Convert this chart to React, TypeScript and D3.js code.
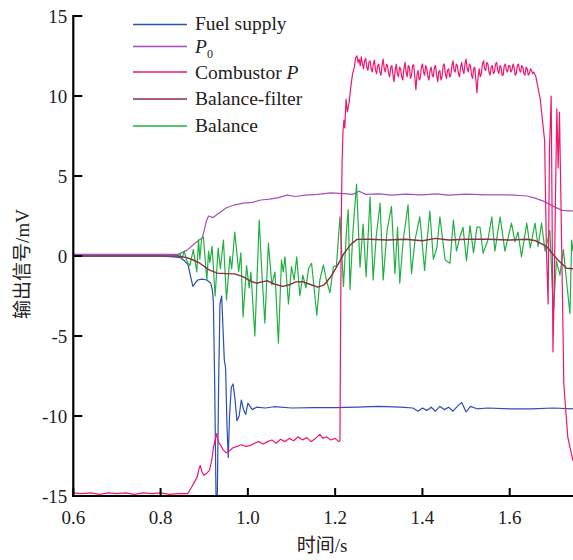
import React from "react";
import * as d3 from "d3";

const xTicks = [0.6, 0.8, 1.0, 1.2, 1.4, 1.6];
const yTicks = [-15, -10, -5, 0, 5, 10, 15];

const fuelSupply: [number, number][] = [
  [0.6, 0], [0.7, 0], [0.8, 0], [0.83, -0.05], [0.845, -0.1], [0.855, -0.3], [0.863, -0.56],
  [0.869, -1.3], [0.874, -1.9], [0.879, -1.7], [0.885, -1.5], [0.895, -1.45], [0.906, -1.5],
  [0.915, -1.7], [0.919, -2.2], [0.921, -2.9], [0.924, -8], [0.927, -15], [0.93, -15],
  [0.933, -8], [0.936, -3], [0.94, -2.5], [0.943, -4.5], [0.946, -6.5], [0.949, -7.0],
  [0.952, -10.5], [0.955, -12.6], [0.958, -10], [0.962, -8.2], [0.966, -8.0], [0.97, -8.8],
  [0.975, -10.3], [0.98, -10.0], [0.985, -9.0], [0.99, -9.6], [0.995, -9.9], [1.0, -9.2],
  [1.01, -9.6], [1.02, -9.45], [1.04, -9.5], [1.06, -9.42], [1.1, -9.5], [1.15, -9.48],
  [1.2, -9.48], [1.25, -9.45], [1.3, -9.4], [1.35, -9.45], [1.378, -9.5], [1.39, -9.7],
  [1.40, -9.5], [1.41, -9.65], [1.42, -9.45], [1.43, -9.7], [1.44, -9.4], [1.45, -9.6],
  [1.46, -9.45], [1.47, -9.7], [1.48, -9.4], [1.49, -9.15], [1.5, -9.75], [1.51, -9.4],
  [1.525, -9.55], [1.55, -9.5], [1.6, -9.55], [1.65, -9.55], [1.7, -9.5], [1.745, -9.55],
];

const p0: [number, number][] = [
  [0.6, 0.1], [0.7, 0.1], [0.8, 0.1], [0.84, 0.1], [0.86, 0.35], [0.875, 0.7], [0.888, 1.0],
  [0.895, 1.1], [0.9, 1.6], [0.905, 2.2], [0.91, 2.5], [0.92, 2.4], [0.935, 2.7], [0.95, 3.0],
  [0.97, 3.2], [0.99, 3.3], [1.01, 3.35], [1.03, 3.5], [1.05, 3.55], [1.07, 3.65], [1.09, 3.8],
  [1.11, 3.72], [1.13, 3.8], [1.16, 3.85], [1.19, 3.95], [1.22, 3.9], [1.24, 3.85], [1.255, 4.05],
  [1.27, 3.85], [1.3, 3.88], [1.33, 3.8], [1.36, 3.87], [1.4, 3.82], [1.43, 3.88], [1.46, 3.8],
  [1.5, 3.87], [1.55, 3.82], [1.6, 3.82], [1.64, 3.75], [1.66, 3.6], [1.68, 3.4], [1.7, 3.1],
  [1.72, 2.85], [1.745, 2.8],
];

const combustorP: [number, number][] = [
  [0.6, -14.8], [0.62, -14.85], [0.64, -14.8], [0.66, -14.9], [0.68, -14.8], [0.7, -14.85],
  [0.72, -14.8], [0.74, -14.9], [0.76, -14.8], [0.78, -14.85], [0.8, -14.8], [0.82, -14.9],
  [0.84, -14.85], [0.862, -14.85], [0.87, -14.5], [0.878, -14.1], [0.884, -13.8], [0.888, -13.3],
  [0.891, -13.1], [0.895, -13.5], [0.899, -13.7], [0.905, -13.6], [0.912, -13.4], [0.917, -12.8],
  [0.921, -12.0], [0.925, -11.5], [0.928, -11.1], [0.932, -11.6], [0.937, -11.8], [0.943, -12.1],
  [0.95, -12.3], [0.957, -12.2], [0.965, -12.0], [0.975, -11.9], [0.985, -11.8], [0.995, -11.9],
  [1.005, -11.85], [1.015, -11.7], [1.025, -11.6], [1.035, -11.75], [1.045, -11.6], [1.055, -11.5],
  [1.065, -11.7], [1.075, -11.45], [1.085, -11.6], [1.095, -11.4], [1.105, -11.55], [1.115, -11.3],
  [1.125, -11.5], [1.135, -11.35], [1.145, -11.6], [1.155, -11.4], [1.165, -11.15], [1.172, -11.4],
  [1.18, -11.3], [1.19, -11.5], [1.2, -11.4], [1.208, -11.6], [1.211, -11.55], [1.212, -6.5],
  [1.214, 2.0], [1.216, 6.0], [1.218, 7.8], [1.22, 8.5], [1.222, 8.0], [1.225, 9.8], [1.228, 9.0],
  [1.232, 9.6], [1.236, 10.6], [1.24, 11.4], [1.244, 11.8], [1.247, 12.4],
  [1.25, 12.5], [1.2525, 12.1], [1.255, 12.3], [1.2575, 11.9], [1.26, 12.45], [1.2625, 12.0],
  [1.265, 11.7], [1.2675, 12.2], [1.27, 12.35], [1.2725, 11.8], [1.275, 11.6], [1.2775, 12.1],
  [1.28, 12.2], [1.2825, 11.7], [1.285, 11.5], [1.2875, 12.0], [1.29, 12.25], [1.2925, 11.6],
  [1.295, 11.4], [1.2975, 11.9], [1.3, 12.0], [1.3025, 11.5], [1.305, 11.3], [1.3075, 11.9],
  [1.31, 12.3], [1.3125, 11.7], [1.315, 11.5], [1.3175, 12.0], [1.32, 11.9], [1.3225, 11.4],
  [1.325, 11.2], [1.3275, 11.8], [1.33, 11.9], [1.3325, 11.3], [1.335, 10.9], [1.3375, 11.6],
  [1.34, 12.0], [1.3425, 11.4], [1.345, 11.2], [1.3475, 11.8], [1.35, 11.7], [1.3525, 11.2],
  [1.355, 11.0], [1.3575, 11.7], [1.36, 12.1], [1.3625, 11.5], [1.365, 11.2], [1.3675, 11.9],
  [1.37, 11.8], [1.3725, 11.1], [1.375, 11.3], [1.3775, 11.9], [1.38, 11.95], [1.3825, 11.2],
  [1.385, 10.4], [1.3875, 11.3], [1.39, 11.6], [1.3925, 11.0], [1.395, 11.1], [1.3975, 11.8],
  [1.4, 12.0], [1.4025, 11.5], [1.405, 11.3], [1.4075, 11.9], [1.41, 11.7], [1.4125, 11.2],
  [1.415, 11.0], [1.4175, 11.6], [1.42, 11.8], [1.4225, 11.3], [1.425, 11.2], [1.4275, 11.8],
  [1.43, 11.9], [1.4325, 11.3], [1.435, 10.9], [1.4375, 11.5], [1.44, 11.6], [1.4425, 11.0],
  [1.445, 11.2], [1.4475, 11.9], [1.45, 12.0], [1.4525, 11.4], [1.455, 11.1], [1.4575, 11.6],
  [1.46, 11.7], [1.4625, 11.2], [1.465, 11.3], [1.4675, 11.9], [1.47, 12.2], [1.4725, 11.6],
  [1.475, 11.5], [1.4775, 12.0], [1.48, 11.9], [1.4825, 11.4], [1.485, 11.2], [1.4875, 11.8],
  [1.49, 12.1], [1.4925, 11.6], [1.495, 11.4], [1.4975, 12.0], [1.5, 12.3], [1.5025, 11.7],
  [1.505, 11.5], [1.5075, 12.0], [1.51, 11.9], [1.5125, 11.3], [1.515, 11.1], [1.5175, 11.7],
  [1.52, 11.8], [1.5225, 11.0], [1.525, 10.2], [1.5275, 11.2], [1.53, 11.7], [1.5325, 11.2],
  [1.535, 11.4], [1.5375, 12.0], [1.54, 12.2], [1.5425, 11.7], [1.545, 11.6], [1.5475, 12.1],
  [1.55, 12.0], [1.5525, 11.5], [1.555, 11.3], [1.5575, 11.8], [1.56, 11.9], [1.5625, 11.4],
  [1.565, 11.5], [1.5675, 12.0], [1.57, 12.1], [1.5725, 11.6], [1.575, 11.4], [1.5775, 11.9],
  [1.58, 11.8], [1.5825, 11.3], [1.585, 11.3], [1.5875, 11.9], [1.59, 12.0], [1.5925, 11.6],
  [1.595, 11.5], [1.5975, 11.9], [1.6, 11.9], [1.6025, 11.5], [1.605, 11.6], [1.6075, 12.0],
  [1.61, 11.8], [1.6125, 11.3], [1.615, 11.4], [1.6175, 11.9], [1.62, 12.0], [1.6225, 11.6],
  [1.625, 11.5], [1.6275, 11.9], [1.63, 11.8], [1.6325, 11.4], [1.635, 11.3], [1.6375, 11.8],
  [1.64, 11.7], [1.6425, 11.3], [1.645, 11.4], [1.6475, 11.7], [1.65, 11.6], [1.6525, 11.4],
  [1.655, 11.5],
  [1.66, 11.2], [1.665, 10.5], [1.67, 9.8], [1.675, 8.5], [1.68, 7.2], [1.684, 0.5],
  [1.688, -3.0], [1.691, 6.5], [1.695, 10.0], [1.697, 3.0], [1.699, -6.0], [1.702, -2.0],
  [1.705, 4.0], [1.708, 9.2], [1.711, 5.5], [1.714, 9.0], [1.717, 4.0], [1.72, -1.0],
  [1.724, -8.0], [1.728, -9.5], [1.733, -11.3], [1.74, -12.2], [1.745, -12.8],
];

const balanceFilter: [number, number][] = [
  [0.6, 0], [0.84, 0], [0.86, -0.1], [0.875, -0.25], [0.89, -0.45], [0.91, -0.85], [0.93, -1.07],
  [0.95, -1.1], [0.97, -1.12], [0.99, -1.3], [1.005, -1.55], [1.02, -1.7], [1.035, -1.6],
  [1.045, -1.55], [1.06, -1.75], [1.08, -1.9], [1.095, -1.8], [1.11, -1.62], [1.125, -1.6],
  [1.14, -1.75], [1.16, -1.95], [1.175, -1.8], [1.19, -1.3], [1.205, -0.6], [1.22, 0.15],
  [1.235, 0.7], [1.25, 1.04], [1.28, 1.05], [1.32, 1.0], [1.36, 1.05], [1.4, 0.95], [1.43, 1.1],
  [1.46, 1.0], [1.5, 1.05], [1.55, 1.05], [1.6, 1.0], [1.64, 1.05], [1.66, 0.95], [1.685, 0.58],
  [1.707, -0.15], [1.73, -0.77], [1.745, -0.8],
];

const balance: [number, number][] = [
  [0.6, 0], [0.837, 0.0], [0.844, 0.15], [0.849, -0.2], [0.854, 0.3], [0.86, -0.3], [0.867, -0.6],
  [0.875, 0.4], [0.883, -1.0], [0.887, 1.0], [0.89, -0.2], [0.894, 1.1], [0.898, 1.2],
  [0.906, -1.5], [0.91, 0.3], [0.913, -0.4], [0.918, 0.6], [0.925, -2.5], [0.932, 0.5],
  [0.937, -0.8], [0.944, 1.0], [0.951, -2.75], [0.959, 0.0], [0.963, -0.8], [0.97, 1.5],
  [0.979, -1.0], [0.984, 0.2], [0.989, -3.8], [0.997, -0.6], [1.003, -2.0], [1.007, -1.0],
  [1.016, -5.0], [1.026, 2.25], [1.032, -1.0], [1.039, -4.2], [1.047, 0.8], [1.055, -1.8],
  [1.062, -1.0], [1.07, -5.45], [1.077, -0.25], [1.081, -1.0], [1.085, -0.05], [1.093, -3.0],
  [1.1, -0.67], [1.106, -1.5], [1.112, -0.05], [1.119, -2.5], [1.126, -1.2], [1.133, -2.0],
  [1.139, -0.8], [1.146, -0.45], [1.158, -3.7], [1.165, -1.5], [1.173, -0.56], [1.18, -1.5],
  [1.188, -2.3], [1.196, -0.67], [1.203, -0.6], [1.211, 2.45], [1.219, -1.9], [1.226, 1.6],
  [1.23, 2.9], [1.234, -2.1], [1.241, 1.6], [1.249, 4.5], [1.257, -0.7], [1.264, 2.0],
  [1.271, -1.3], [1.28, 3.7], [1.287, -1.5], [1.294, 1.2], [1.303, 3.3], [1.31, -1.5],
  [1.319, 1.6], [1.329, 3.1], [1.337, -1.1], [1.343, 1.8], [1.348, -1.7], [1.356, 1.0],
  [1.367, 3.2], [1.375, -1.1], [1.383, 1.0], [1.394, 2.45], [1.405, -0.9], [1.41, 0.8],
  [1.417, 2.8], [1.425, -0.2], [1.433, 0.5], [1.44, 2.45], [1.452, -0.25], [1.463, -0.45],
  [1.471, 2.25], [1.478, 0.3], [1.486, 1.2], [1.493, 1.8], [1.501, -0.3], [1.509, 1.9],
  [1.517, 0.2], [1.525, 1.8], [1.532, 1.8], [1.539, 0.17], [1.55, 1.0], [1.559, 2.45],
  [1.566, 0.3], [1.578, 2.45], [1.589, 0.3], [1.604, 2.05], [1.612, 0.9], [1.619, 1.5],
  [1.627, -0.05], [1.639, 2.05], [1.647, 0.5], [1.658, 2.05], [1.665, 0.6], [1.673, 2.05],
  [1.681, 0.3], [1.692, 1.6], [1.7, -3.6], [1.707, -0.3], [1.715, -1.2], [1.723, 0.4],
  [1.731, -1.8], [1.738, -3.6], [1.742, 1.0], [1.745, 0.3],
];

const COLORS = {
  fuel: "#2a4fb5",
  p0: "#a450bc",
  comb: "#f0166f",
  filt: "#8c2a4a",
  bal: "#23b043",
};

const W = 573;
const H = 560;
const X0 = 73.3;
const X1 = 573;
const Y15 = 16;
const Ym15 = 496;

export default function App() {
  const x = d3.scaleLinear().domain([0.6, 1.745]).range([X0, X1]);
  const y = d3.scaleLinear().domain([-15, 15]).range([Ym15, Y15]);
  const line = d3
    .line<[number, number]>()
    .x((d) => x(d[0]))
    .y((d) => y(d[1]));

  const serif = "'Liberation Serif', 'Times New Roman', 'Noto Sans CJK SC', serif";
  const legend = [
    { key: "fuel", y: 24.5 },
    { key: "p0", y: 46.5 },
    { key: "comb", y: 72 },
    { key: "filt", y: 99 },
    { key: "bal", y: 126 },
  ];

  return (
    <svg
      width={W}
      height={H}
      style={{ position: "absolute", left: 0, top: 0, background: "#fff" }}
      fontFamily={serif}
    >
      <rect x={0} y={0} width={W} height={H} fill="#fff" />
      <g fill="none" strokeWidth={1.2} strokeLinejoin="round">
        <path d={line(fuelSupply) || ""} stroke={COLORS.fuel} />
        <path d={line(p0) || ""} stroke={COLORS.p0} />
        <path d={line(balance) || ""} stroke={COLORS.bal} />
        <path d={line(combustorP) || ""} stroke={COLORS.comb} />
        <path d={line(balanceFilter) || ""} stroke={COLORS.filt} strokeWidth={1.4} />
      </g>

      <line x1={X0} y1={Y15 - 1} x2={X0} y2={Ym15 + 1} stroke="#000" strokeWidth={2.2} />
      <line x1={X0 - 1} y1={Ym15} x2={W} y2={Ym15} stroke="#000" strokeWidth={2.2} />
      {yTicks.map((t) => (
        <g key={"y" + t}>
          <line x1={X0} x2={X0 + 9} y1={y(t)} y2={y(t)} stroke="#000" strokeWidth={2} />
          <text x={X0 - 6} y={y(t) + 6.5} textAnchor="end" fontSize={19} fill="#222">
            {String(t)}
          </text>
        </g>
      ))}
      {xTicks.map((t) => (
        <g key={"x" + t}>
          <line x1={x(t)} x2={x(t)} y1={Ym15} y2={Ym15 - 8} stroke="#000" strokeWidth={2} />
          <text x={x(t)} y={524} textAnchor="middle" fontSize={19} fill="#222">
            {t.toFixed(1)}
          </text>
        </g>
      ))}
      <text x={322} y={552} textAnchor="middle" fontSize={19} fill="#222">
        时间/s
      </text>
      <text
        transform="translate(29,264) rotate(-90)"
        textAnchor="middle"
        fontSize={19}
        fill="#222"
      >
        输出信号/mV
      </text>

      {legend.map((l) => (
        <line
          key={l.key}
          x1={133}
          x2={187}
          y1={l.y}
          y2={l.y}
          stroke={(COLORS as any)[l.key]}
          strokeWidth={1.3}
        />
      ))}
      <g fontSize={19.5} fill="#222">
        <text x={195} y={30}>Fuel supply</text>
        <text x={195} y={53}>
          <tspan fontStyle="italic">P</tspan>
          <tspan fontSize={12} dy={5}>0</tspan>
        </text>
        <text x={195} y={79}>
          Combustor <tspan fontStyle="italic">P</tspan>
        </text>
        <text x={195} y={105}>Balance-filter</text>
        <text x={195} y={132}>Balance</text>
      </g>
    </svg>
  );
}
